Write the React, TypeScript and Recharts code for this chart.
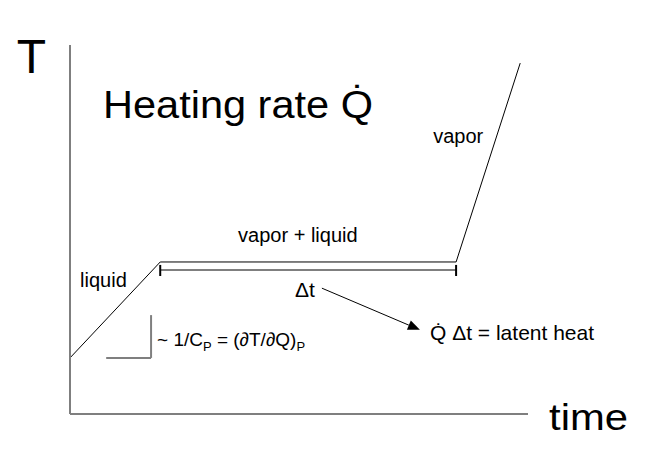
import React from 'react';
import {
    LineChart,
    Line,
    XAxis,
    YAxis,
    ReferenceLine,
    ReferenceDot,
    Label,
} from 'recharts';

// heating curve: time vs temperature (arbitrary units, 0-100)
const time = [0, 19.7, 84.3, 98.3];
const temperature = [15.2, 41.2, 41.2, 95.1];

// Δt bracket under the plateau
const bracketStart = 19.7;
const bracketEnd = 84.3;
const bracketLevel = 39.0;
const bracketTick = [37.4, 40.4];

// slope marker next to the liquid segment
const slopeX = [7.9, 17.7];
const slopeY = [15.2, 26.8];

// arrow from Δt to the latent heat note
const arrowFrom = { x: 55.0, y: 34.1 };
const arrowTo = { x: 76.4, y: 22.8 };

const data = time.map((t, i) => ({ time: t, T: temperature[i] }));

const FONT = '"Liberation Sans", Arial, sans-serif';
const GRAY = '#7f7f7f';

function textAt(text: React.ReactNode, size: number, width?: number) {
    return (props: any) => {
        const vb = props.viewBox || {};
        return (
            <text
                x={vb.x}
                y={vb.y}
                fontFamily={FONT}
                fontSize={size}
                fill="#000"
                textLength={width}
                lengthAdjust={width ? 'spacingAndGlyphs' : undefined}
            >
                {text}
            </text>
        );
    };
}

function Arrow(props: any) {
    const { x1, y1, x2, y2 } = props;
    const ang = Math.atan2(y2 - y1, x2 - x1);
    const len = 12;
    const half = 5;
    const bx = x2 - len * Math.cos(ang);
    const by = y2 - len * Math.sin(ang);
    const px = -Math.sin(ang) * half;
    const py = Math.cos(ang) * half;
    return (
        <g>
            <line x1={x1} y1={y1} x2={bx} y2={by} stroke="#000" strokeWidth={1} />
            <polygon
                points={`${x2},${y2} ${bx + px},${by + py} ${bx - px},${by - py}`}
                fill="#000"
            />
        </g>
    );
}

export default function App() {
    return (
        <div style={{ position: 'absolute', left: 0, top: 0, width: 647, height: 459, background: '#fff' }}>
            <LineChart
                width={647}
                height={459}
                data={data}
                margin={{ top: 45, right: 119, bottom: 44, left: 69 }}
            >
                <XAxis
                    type="number"
                    dataKey="time"
                    domain={[0, 100]}
                    height={1}
                    tick={false}
                    tickLine={false}
                    axisLine={{ stroke: GRAY, strokeWidth: 2 }}
                />
                <YAxis
                    type="number"
                    domain={[0, 100]}
                    width={1}
                    tick={false}
                    tickLine={false}
                    axisLine={{ stroke: GRAY, strokeWidth: 2 }}
                />
                <Line
                    type="linear"
                    dataKey="T"
                    stroke="#000"
                    strokeWidth={1}
                    dot={false}
                    isAnimationActive={false}
                />

                {/* Δt bracket */}
                <ReferenceLine
                    segment={[{ x: bracketStart, y: bracketLevel }, { x: bracketEnd, y: bracketLevel }]}
                    stroke={GRAY}
                    strokeWidth={2}
                    ifOverflow="visible"
                />
                <ReferenceLine
                    segment={[{ x: bracketStart, y: bracketTick[0] }, { x: bracketStart, y: bracketTick[1] }]}
                    stroke="#000"
                    strokeWidth={2}
                    ifOverflow="visible"
                />
                <ReferenceLine
                    segment={[{ x: bracketEnd, y: bracketTick[0] }, { x: bracketEnd, y: bracketTick[1] }]}
                    stroke="#000"
                    strokeWidth={2}
                    ifOverflow="visible"
                />

                {/* slope marker */}
                <ReferenceLine
                    segment={[{ x: slopeX[0], y: slopeY[0] }, { x: slopeX[1], y: slopeY[0] }]}
                    stroke={GRAY}
                    strokeWidth={2}
                    ifOverflow="visible"
                />
                <ReferenceLine
                    segment={[{ x: slopeX[1], y: slopeY[0] }, { x: slopeX[1], y: slopeY[1] }]}
                    stroke={GRAY}
                    strokeWidth={2}
                    ifOverflow="visible"
                />

                {/* arrow */}
                <ReferenceLine
                    segment={[arrowFrom, arrowTo]}
                    ifOverflow="visible"
                    shape={Arrow}
                />

                {/* labels */}
                <ReferenceDot x={-11.6} y={92.4} r={0} fill="none" stroke="none" ifOverflow="visible">
                    <Label content={textAt('T', 48)} />
                </ReferenceDot>
                <ReferenceDot x={104.6} y={-4.3} r={0} fill="none" stroke="none" ifOverflow="visible">
                    <Label content={textAt('time', 37, 79)} />
                </ReferenceDot>
                <ReferenceDot x={7.2} y={80.2} r={0} fill="none" stroke="none" ifOverflow="visible">
                    <Label content={textAt('Heating rate Q\u0307', 38, 270)} />
                </ReferenceDot>
                <ReferenceDot x={79.3} y={73.4} r={0} fill="none" stroke="none" ifOverflow="visible">
                    <Label content={textAt('vapor', 20)} />
                </ReferenceDot>
                <ReferenceDot x={36.7} y={46.6} r={0} fill="none" stroke="none" ifOverflow="visible">
                    <Label content={textAt('vapor + liquid', 20)} />
                </ReferenceDot>
                <ReferenceDot x={2.2} y={34.4} r={0} fill="none" stroke="none" ifOverflow="visible">
                    <Label content={textAt('liquid', 20)} />
                </ReferenceDot>
                <ReferenceDot x={49.1} y={31.7} r={0} fill="none" stroke="none" ifOverflow="visible">
                    <Label content={textAt('\u0394t', 21)} />
                </ReferenceDot>
                <ReferenceDot x={19.0} y={18.4} r={0} fill="none" stroke="none" ifOverflow="visible">
                    <Label
                        content={textAt(
                            <>
                                {'~ 1/C'}
                                <tspan fontSize={13} dy={5}>P</tspan>
                                <tspan dy={-5}>{' = (\u2202T/\u2202Q)'}</tspan>
                                <tspan fontSize={13} dy={5}>P</tspan>
                            </>,
                            19,
                        )}
                    />
                </ReferenceDot>
                <ReferenceDot x={78.6} y={20.1} r={0} fill="none" stroke="none" ifOverflow="visible">
                    <Label content={textAt('Q\u0307 \u0394t = latent heat', 21)} />
                </ReferenceDot>
            </LineChart>
        </div>
    );
}
